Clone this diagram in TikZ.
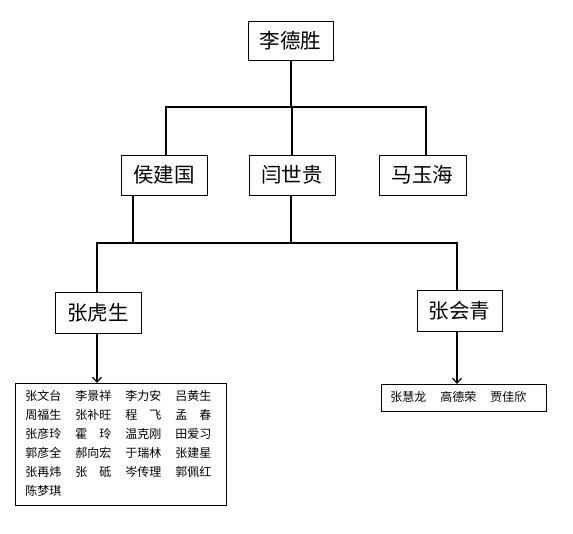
\documentclass[tikz,border=0pt]{standalone}
\usepackage{fontspec}
\setmainfont{Noto Sans CJK SC}
\usetikzlibrary{positioning, arrows.meta, calc}
\newcommand\spreadname[2]{\makebox[3em][s]{#1\hfill#2}}

\begin{document}
\begin{tikzpicture}[
    x=1pt, y=-1pt,
    box/.style  = {draw=black, line width=0.8pt, inner sep=0pt,
                   font=\fontsize{20.5}{24}\selectfont,
                   minimum width=86pt, minimum height=40pt},
    list/.style = {draw=black, line width=0.8pt, anchor=north west, align=left,
                   inner xsep=9pt, inner ysep=4pt,
                   font=\fontsize{12}{19}\selectfont},
    link/.style = {draw=black, line width=2pt},
    flow/.style = {-{Straight Barb[length=5pt, width=9pt, line width=1.2pt]}, draw=black, line width=1.2pt},
  ]
  \useasboundingbox[fill=white] (0,0) rectangle (573,533);

  \node[box, minimum width=85pt, minimum height=39pt] (li) at (290.5,40.5) {李德胜};
  \node[box] (hou) at (164,175) {侯建国};
  \node[box] (yan) at (292,175) {闫世贵};
  \node[box, minimum width=87pt] (ma) at (422.5,175) {马玉海};
  \node[box, minimum height=41pt] (zhs) at (98,312.5) {张虎生};
  \node[box, minimum width=85pt, minimum height=41pt] (zhq) at (459.5,310.5) {张会青};

  \node[list, text width=191pt, inner xsep=10pt] (grpa) at (15,383)
    {\begin{tabular}{@{}l@{\hspace{14pt}}l@{\hspace{14pt}}l@{\hspace{14pt}}l@{}}
       张文台 & 李景祥 & 李力安 & 吕黄生\\
       周福生 & 张补旺 & \spreadname{程}{飞} & \spreadname{孟}{春}\\
       张彦玲 & \spreadname{霍}{玲} & 温克刚 & 田爱习\\
       郭彦全 & 郝向宏 & 于瑞林 & 张建星\\
       张再炜 & \spreadname{张}{砥} & 岑传理 & 郭佩红\\
       陈梦琪
     \end{tabular}};
  \node[list, text width=147pt] (grpb) at (381,384)
    {\begin{tabular}{@{}l@{\hspace{14pt}}l@{\hspace{14pt}}l@{}}
       张慧龙 & 高德荣 & 贾佳欣
     \end{tabular}};

  % upper tree
  \draw[link] (li.south) -- ++(0,47) coordinate (topbus);
  \draw[link] ([xshift=2pt]hou.north) |- (topbus) -| ([xshift=3.5pt]ma.north);
  \draw[link] (yan.north) -- (yan.north |- topbus);

  % lower tree
  \coordinate (lowbus) at (291,243);
  \draw[link] ([xshift=-31pt]hou.south) -- ([xshift=-31pt]hou.south |- lowbus);
  \draw[link] ([xshift=-1pt]yan.south) -- (lowbus);
  \draw[link] ([xshift=-1pt]zhs.north) |- (lowbus) -| ([xshift=-2.5pt]zhq.north);

  \draw[flow] ([xshift=-1pt]zhs.south) -- ([xshift=-1pt]zhs.south |- grpa.north);
  \draw[flow] ([xshift=-2.5pt]zhq.south) -- ([xshift=-2.5pt]zhq.south |- grpb.north);
\end{tikzpicture}
\end{document}
